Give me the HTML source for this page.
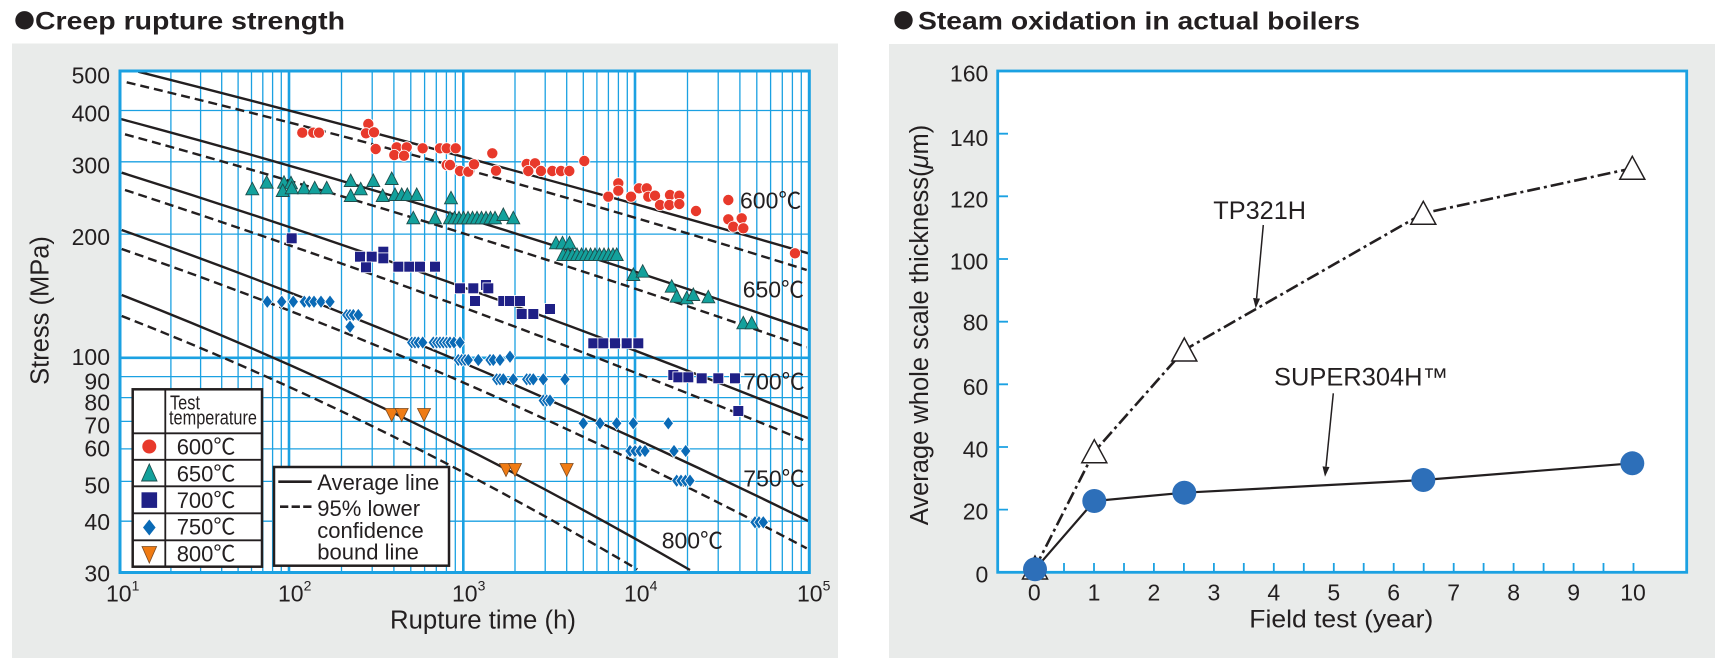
<!DOCTYPE html>
<html><head><meta charset="utf-8"><style>
html,body{margin:0;padding:0;background:#fff;}
svg{display:block;}
text{font-family:"Liberation Sans","Noto Sans CJK JP",sans-serif;fill:#231f20;}
</style></head><body>
<svg width="1728" height="671" viewBox="0 0 1728 671" xmlns="http://www.w3.org/2000/svg">
<defs>
<circle id="c6" r="5.6" fill="#e8392b" stroke="#fff" stroke-width="0.8"/>
<path id="t65" d="M0,-7L6.5,5.5H-6.5Z" fill="#13a19c" stroke="#1d4d4c" stroke-width="0.9"/>
<rect id="s7" x="-5.4" y="-5.4" width="10.8" height="10.8" fill="#1f2086" stroke="#fff" stroke-width="0.8"/>
<path id="d75" d="M0,-6.8L5.2,0L0,6.8L-5.2,0Z" fill="#0a6ab6" stroke="#fff" stroke-width="0.8"/>
<path id="v8" d="M-6.5,-6L6.5,-6L0,7Z" fill="#f07b13" stroke="#7a4a22" stroke-width="0.8"/>
<clipPath id="lp"><rect x="120" y="71" width="689.3" height="501.5"/></clipPath>
</defs>

<!-- Titles -->
<circle cx="24.5" cy="20.3" r="9.2" fill="#231f20"/>
<text x="35" y="29.3" font-size="25" font-weight="bold" textLength="310" lengthAdjust="spacingAndGlyphs">Creep rupture strength</text>
<circle cx="903.5" cy="20.3" r="9.2" fill="#231f20"/>
<text x="918" y="29.3" font-size="25" font-weight="bold" textLength="442" lengthAdjust="spacingAndGlyphs">Steam oxidation in actual boilers</text>

<!-- Panels -->
<rect x="12" y="43.5" width="826" height="614.5" fill="#e9ebea"/>
<rect x="889" y="44" width="826" height="614" fill="#e9ebea"/>

<!-- ===== LEFT CHART ===== -->
<rect x="120" y="71" width="689.3" height="501.5" fill="#fff"/>
<g stroke="#1ba1e2" fill="none">
<path stroke-width="1.3" d="M170.9 71V572.5M200.6 71V572.5M221.7 71V572.5M238.1 71V572.5M251.5 71V572.5M262.8 71V572.5M272.6 71V572.5M281.3 71V572.5
M341.5 71V572.5M372.2 71V572.5M393.9 71V572.5M410.8 71V572.5M424.6 71V572.5M436.3 71V572.5M446.4 71V572.5M455.3 71V572.5
M515 71V572.5M545.2 71V572.5M566.7 71V572.5M583.3 71V572.5M596.9 71V572.5M608.4 71V572.5M618.4 71V572.5M627.3 71V572.5
M687.5 71V572.5M718.2 71V572.5M739.9 71V572.5M756.8 71V572.5M770.6 71V572.5M782.3 71V572.5M792.4 71V572.5M801.3 71V572.5
M120 521.2H809.3M120 481.4H809.3M120 448.9H809.3M120 421.4H809.3M120 397.6H809.3M120 376.6H809.3M120 234.1H809.3M120 161.8H809.3M120 110.5H809.3"/>
<path stroke-width="2.6" d="M289 71V572.5M463.3 71V572.5M635 71V572.5M120 357.8H809.3"/>
</g>

<!-- Curves -->
<g clip-path="url(#lp)" fill="none" stroke="#231f20" stroke-width="2.4">
<path d="M138.3 71.7Q473.3 156.5 808.3 253.3"/>
<path d="M120.7 119Q464.5 210.8 808.3 330"/>
<path d="M121.7 172.7Q465 280.2 808.3 418.3"/>
<path d="M121.7 230Q465 351.5 808.3 521"/>
<path d="M121.7 295Q405.9 405.3 690 570"/>
<g stroke-dasharray="9 5">
<path d="M126.7 82.3Q466.7 163.2 806.7 270"/>
<path d="M125 134.3Q465.9 227.5 806.7 347.3"/>
<path d="M125 190Q466.2 301.2 807.3 441.7"/>
<path d="M121.7 249Q464.2 367.2 806.7 548.3"/>
<path d="M121.7 316Q379.5 416.8 637.3 569.3"/>
</g>
</g>

<!-- 600 circles -->
<g>
<use href="#c6" x="302.3" y="132.7"/><use href="#c6" x="313.3" y="132.7"/><use href="#c6" x="319" y="132.7"/>
<use href="#c6" x="368.3" y="124"/><use href="#c6" x="366" y="133.3"/><use href="#c6" x="374" y="132.3"/><use href="#c6" x="375.7" y="149"/>
<use href="#c6" x="396.7" y="147.3"/><use href="#c6" x="406.7" y="147.3"/><use href="#c6" x="394.3" y="155"/><use href="#c6" x="404" y="155.7"/>
<use href="#c6" x="422.7" y="148.3"/><use href="#c6" x="440" y="148.3"/><use href="#c6" x="446.7" y="148.3"/><use href="#c6" x="455.7" y="148.3"/>
<use href="#c6" x="446.7" y="165"/><use href="#c6" x="450" y="165"/><use href="#c6" x="460" y="171"/><use href="#c6" x="468.3" y="171.7"/><use href="#c6" x="474" y="164.3"/>
<use href="#c6" x="492.3" y="153.3"/><use href="#c6" x="496" y="170.7"/>
<use href="#c6" x="526.7" y="164"/><use href="#c6" x="535" y="163.3"/><use href="#c6" x="528.3" y="171"/><use href="#c6" x="541" y="171"/>
<use href="#c6" x="552.3" y="171"/><use href="#c6" x="561" y="171"/><use href="#c6" x="569.3" y="171"/><use href="#c6" x="584.3" y="161"/>
<use href="#c6" x="608.3" y="196.7"/><use href="#c6" x="618.3" y="183.3"/><use href="#c6" x="618.3" y="190.7"/><use href="#c6" x="631" y="196.7"/>
<use href="#c6" x="639" y="188.3"/><use href="#c6" x="646.7" y="188.3"/><use href="#c6" x="648.3" y="196.7"/><use href="#c6" x="655" y="195.7"/>
<use href="#c6" x="660" y="205"/><use href="#c6" x="670" y="195"/><use href="#c6" x="669.3" y="205"/><use href="#c6" x="679.3" y="195.7"/><use href="#c6" x="679.3" y="204"/>
<use href="#c6" x="696" y="211"/><use href="#c6" x="728.3" y="200"/>
<use href="#c6" x="728.3" y="219.3"/><use href="#c6" x="741.7" y="218.3"/><use href="#c6" x="733.3" y="226.7"/><use href="#c6" x="743.3" y="228.3"/>
<use href="#c6" x="795" y="253.3"/>
</g>

<!-- 650 triangles -->
<g>
<use href="#t65" x="252.3" y="189.3"/><use href="#t65" x="266.7" y="182.7"/><use href="#t65" x="284" y="182.7"/><use href="#t65" x="291" y="183.3"/>
<use href="#t65" x="282.7" y="191"/><use href="#t65" x="291.7" y="188.3"/><use href="#t65" x="304" y="188.3"/><use href="#t65" x="314.7" y="188.3"/><use href="#t65" x="326.7" y="188.3"/>
<use href="#t65" x="350.7" y="181"/><use href="#t65" x="373.3" y="181"/><use href="#t65" x="391.7" y="179"/>
<use href="#t65" x="350.7" y="196"/><use href="#t65" x="360.7" y="189.3"/>
<use href="#t65" x="382.7" y="196"/><use href="#t65" x="395" y="195"/><use href="#t65" x="401.7" y="195"/><use href="#t65" x="407.3" y="195"/><use href="#t65" x="416.7" y="195"/>
<use href="#t65" x="451" y="198.3"/>
<use href="#t65" x="413.3" y="218.3"/><use href="#t65" x="435" y="218.3"/>
<use href="#t65" x="450" y="218.3"/><use href="#t65" x="454.5" y="218.3"/><use href="#t65" x="459" y="218.3"/><use href="#t65" x="463.5" y="218.3"/><use href="#t65" x="468" y="218.3"/><use href="#t65" x="472.5" y="218.3"/><use href="#t65" x="477" y="218.3"/><use href="#t65" x="481.5" y="218.3"/><use href="#t65" x="486" y="218.3"/><use href="#t65" x="490.5" y="218.3"/><use href="#t65" x="495" y="218.3"/><use href="#t65" x="503.3" y="215"/><use href="#t65" x="513.3" y="218.3"/>
<use href="#t65" x="556" y="243.3"/><use href="#t65" x="562.5" y="243.3"/><use href="#t65" x="569.5" y="243.3"/>
<use href="#t65" x="563.3" y="255"/><use href="#t65" x="568" y="255"/><use href="#t65" x="572.5" y="255"/><use href="#t65" x="577" y="255"/><use href="#t65" x="581.5" y="255"/><use href="#t65" x="586" y="255"/><use href="#t65" x="590.5" y="255"/><use href="#t65" x="595" y="255"/><use href="#t65" x="599.5" y="255"/><use href="#t65" x="604" y="255"/><use href="#t65" x="608.5" y="255"/><use href="#t65" x="613" y="255"/><use href="#t65" x="616.7" y="255"/>
<use href="#t65" x="633.3" y="275"/><use href="#t65" x="642.7" y="271.7"/>
<use href="#t65" x="671.7" y="286.7"/><use href="#t65" x="676.7" y="296.7"/><use href="#t65" x="686.7" y="298.3"/><use href="#t65" x="693.3" y="295"/><use href="#t65" x="708.3" y="297.3"/>
<use href="#t65" x="743.3" y="323.3"/><use href="#t65" x="751.7" y="323.3"/>
</g>

<!-- 700 squares -->
<g>
<use href="#s7" x="291.7" y="238.3"/>
<use href="#s7" x="360" y="256.7"/><use href="#s7" x="371.7" y="256.7"/><use href="#s7" x="383.3" y="251.7"/><use href="#s7" x="383.3" y="258.3"/><use href="#s7" x="366" y="267.3"/>
<use href="#s7" x="398.3" y="266.7"/><use href="#s7" x="409.3" y="266.7"/><use href="#s7" x="420" y="266.7"/><use href="#s7" x="435" y="266.7"/>
<use href="#s7" x="486" y="285"/><use href="#s7" x="460" y="288.3"/><use href="#s7" x="473.3" y="288.3"/><use href="#s7" x="488.3" y="288.3"/>
<use href="#s7" x="475" y="301"/><use href="#s7" x="503.3" y="301"/><use href="#s7" x="510" y="301"/><use href="#s7" x="520" y="301"/>
<use href="#s7" x="521.7" y="314"/><use href="#s7" x="533.3" y="314"/><use href="#s7" x="550" y="309"/>
<use href="#s7" x="593.3" y="343.3"/><use href="#s7" x="603.3" y="343.3"/><use href="#s7" x="615" y="343.3"/><use href="#s7" x="626.7" y="343.3"/><use href="#s7" x="638.3" y="343.3"/>
<use href="#s7" x="673.3" y="375"/><use href="#s7" x="678.3" y="377.3"/><use href="#s7" x="688.3" y="377.3"/><use href="#s7" x="701.7" y="378.3"/><use href="#s7" x="718.3" y="378.3"/><use href="#s7" x="735" y="378.3"/>
<use href="#s7" x="738.3" y="411"/>
</g>

<!-- 750 diamonds -->
<g>
<use href="#d75" x="267.3" y="301.7"/><use href="#d75" x="281.7" y="301.7"/><use href="#d75" x="293.3" y="301.7"/><use href="#d75" x="304.3" y="301.7"/><use href="#d75" x="309.3" y="301.7"/><use href="#d75" x="314" y="301.7"/><use href="#d75" x="321" y="301.7"/><use href="#d75" x="330" y="301.7"/>
<use href="#d75" x="346.7" y="315"/><use href="#d75" x="350" y="315"/><use href="#d75" x="353.3" y="315"/><use href="#d75" x="358.3" y="315"/><use href="#d75" x="350" y="326.7"/>
<use href="#d75" x="411.7" y="342.5"/><use href="#d75" x="415" y="342.5"/><use href="#d75" x="418.3" y="342.5"/><use href="#d75" x="422.7" y="342.5"/>
<use href="#d75" x="433.3" y="342.5"/><use href="#d75" x="436.7" y="342.5"/><use href="#d75" x="440" y="342.5"/><use href="#d75" x="443.3" y="342.5"/><use href="#d75" x="446.7" y="342.5"/><use href="#d75" x="450" y="342.5"/><use href="#d75" x="454" y="342.5"/><use href="#d75" x="460" y="342.5"/>
<use href="#d75" x="458.3" y="360"/><use href="#d75" x="461.7" y="360"/><use href="#d75" x="465" y="360"/><use href="#d75" x="468.3" y="360"/><use href="#d75" x="478.3" y="360"/>
<use href="#d75" x="490" y="360"/><use href="#d75" x="493.3" y="360"/><use href="#d75" x="500" y="360"/><use href="#d75" x="510" y="356.7"/>
<use href="#d75" x="496.7" y="379.3"/><use href="#d75" x="500" y="379.3"/><use href="#d75" x="503.3" y="379.3"/><use href="#d75" x="513.3" y="379.3"/>
<use href="#d75" x="526.7" y="379.3"/><use href="#d75" x="530" y="379.3"/><use href="#d75" x="533.3" y="379.3"/><use href="#d75" x="543.3" y="379.3"/><use href="#d75" x="565" y="379.3"/>
<use href="#d75" x="543.3" y="400.5"/><use href="#d75" x="546.7" y="400.5"/><use href="#d75" x="550" y="400.5"/>
<use href="#d75" x="583.3" y="423.3"/><use href="#d75" x="600" y="423.3"/><use href="#d75" x="616.7" y="423.3"/><use href="#d75" x="633.3" y="423.3"/><use href="#d75" x="668.3" y="423.3"/>
<use href="#d75" x="630" y="451"/><use href="#d75" x="635" y="451"/><use href="#d75" x="640" y="451"/><use href="#d75" x="645" y="451"/><use href="#d75" x="674" y="451"/><use href="#d75" x="685.7" y="451"/>
<use href="#d75" x="676.7" y="480.7"/><use href="#d75" x="681" y="480.7"/><use href="#d75" x="685.5" y="480.7"/><use href="#d75" x="690" y="480.7"/>
<use href="#d75" x="755" y="522.3"/><use href="#d75" x="759" y="522.3"/><use href="#d75" x="763.3" y="522.3"/>
</g>

<!-- 800 inverted triangles -->
<g>
<use href="#v8" x="391.7" y="414.5"/><use href="#v8" x="401.7" y="414.5"/><use href="#v8" x="424" y="414.5"/>
<use href="#v8" x="506" y="469.5"/><use href="#v8" x="515" y="469.5"/><use href="#v8" x="566.7" y="469.5"/>
</g>

<!-- curve labels -->
<g font-size="23">
<text x="740" y="208.3">600℃</text>
<text x="742.7" y="297.3">650℃</text>
<text x="743.3" y="389.3">700℃</text>
<text x="743.3" y="486.7">750℃</text>
<text x="661.7" y="548.3">800℃</text>
</g>

<!-- plot border -->
<rect x="120" y="71" width="689.3" height="501.5" fill="none" stroke="#1ba1e2" stroke-width="3"/>

<!-- legend 1 -->
<g>
<rect x="132.7" y="389.3" width="129.3" height="177.4" fill="#fff" stroke="#231f20" stroke-width="2.5"/>
<path d="M165.3 389.3V567M132.7 433.3H262M132.7 459.8H262M132.7 486.3H262M132.7 513.3H262M132.7 540.3H262" stroke="#231f20" stroke-width="1.8" fill="none"/>
<text x="170" y="409.3" font-size="20" textLength="30" lengthAdjust="spacingAndGlyphs">Test</text>
<text x="169" y="424.3" font-size="20" textLength="88" lengthAdjust="spacingAndGlyphs">temperature</text>
<circle cx="149.3" cy="446.5" r="7" fill="#e8392b"/>
<path d="M149.3 464L157 481H141.6Z" fill="#13a19c" stroke="#1d4d4c" stroke-width="0.9"/>
<rect x="141.5" y="492.3" width="15.6" height="15.6" fill="#1f2086"/>
<path d="M149.3 519.5L155.6 527.5L149.3 535.5L143 527.5Z" fill="#0a6ab6"/>
<path d="M142 546.5H156.6L149.3 563Z" fill="#f07b13" stroke="#7a4a22" stroke-width="0.8"/>
<g font-size="22">
<text x="176.7" y="454.6">600℃</text>
<text x="176.7" y="481.3">650℃</text>
<text x="176.7" y="508">700℃</text>
<text x="176.7" y="534.7">750℃</text>
<text x="176.7" y="561.3">800℃</text>
</g>
</g>

<!-- legend 2 -->
<g>
<rect x="274" y="467" width="175" height="98.7" fill="#fff" stroke="#231f20" stroke-width="2.5"/>
<path d="M278.3 481.7H311.7" stroke="#231f20" stroke-width="2.6"/>
<path d="M280 506.7H312" stroke="#231f20" stroke-width="2.6" stroke-dasharray="8.3 3.3"/>
<g font-size="22">
<text x="317.3" y="490">Average line</text>
<text x="317.3" y="516">95% lower</text>
<text x="317.3" y="538">confidence</text>
<text x="317.3" y="559.5">bound line</text>
</g>
</g>

<!-- left axis labels -->
<g font-size="23" text-anchor="end">
<text x="110" y="83.3">500</text>
<text x="110" y="121.7">400</text>
<text x="110" y="173.3">300</text>
<text x="110" y="245">200</text>
<text x="110" y="365">100</text>
<text x="110" y="389.3">90</text>
<text x="110" y="410.7">80</text>
<text x="110" y="433.3">70</text>
<text x="110" y="456.7">60</text>
<text x="110" y="493.3">50</text>
<text x="110" y="530">40</text>
<text x="110" y="581.7">30</text>
</g>
<g font-size="23">
<text x="106" y="601.7">10<tspan font-size="14" dy="-11">1</tspan></text>
<text x="278" y="601.7">10<tspan font-size="14" dy="-11">2</tspan></text>
<text x="452" y="601.7">10<tspan font-size="14" dy="-11">3</tspan></text>
<text x="624" y="601.7">10<tspan font-size="14" dy="-11">4</tspan></text>
<text x="797" y="601.7">10<tspan font-size="14" dy="-11">5</tspan></text>
</g>
<text x="390" y="628.3" font-size="25.5" textLength="186" lengthAdjust="spacingAndGlyphs">Rupture time (h)</text>
<text transform="translate(48.3,310.5) rotate(-90)" font-size="25.5" text-anchor="middle">Stress (MPa)</text>

<!-- ===== RIGHT CHART ===== -->
<rect x="997.7" y="71" width="689" height="501.3" fill="#fff"/>
<g stroke="#1ba1e2" stroke-width="1.8" fill="none">
<path d="M997.7 509.6H1008M997.7 447H1008M997.7 384.3H1008M997.7 321.7H1008M997.7 259H1008M997.7 196.3H1008M997.7 133.7H1008"/>
<path d="M1034 572.3V563M1064 572.3V563M1094 572.3V563M1124 572.3V563M1153.9 572.3V563M1183.9 572.3V563M1213.9 572.3V563M1243.8 572.3V563M1273.8 572.3V563M1303.8 572.3V563M1333.8 572.3V563M1363.7 572.3V563M1393.7 572.3V563M1423.7 572.3V563M1453.7 572.3V563M1483.6 572.3V563M1513.6 572.3V563M1543.6 572.3V563M1573.6 572.3V563M1603.5 572.3V563M1633.5 572.3V563"/>
</g>
<rect x="997.7" y="71" width="689" height="501.3" fill="none" stroke="#1ba1e2" stroke-width="2.8"/>

<!-- series lines -->
<polyline points="1035,568 1094.3,451.7 1184.3,350 1423.3,213.3 1632.3,168.3" fill="none" stroke="#231f20" stroke-width="2.6" stroke-dasharray="13 4 3 4"/>
<polyline points="1035,569.3 1094.3,501 1184.3,492.7 1423.3,480 1632.3,463.3" fill="none" stroke="#231f20" stroke-width="2.2"/>
<g fill="#fff" stroke="#231f20" stroke-width="1.5">
<path d="M1035 556L1047.5 579H1022.5Z"/>
<path d="M1094.3 439.7L1106.8 462.7H1081.8Z"/>
<path d="M1184.3 338L1196.8 361H1171.8Z"/>
<path d="M1423.3 201.3L1435.8 224.3H1410.8Z"/>
<path d="M1632.3 156.3L1644.8 179.3H1619.8Z"/>
</g>
<g fill="#2d6fb9">
<circle cx="1035" cy="569.3" r="12"/>
<circle cx="1094.3" cy="501" r="12"/>
<circle cx="1184.3" cy="492.7" r="12"/>
<circle cx="1423.3" cy="480" r="12"/>
<circle cx="1632.3" cy="463.3" r="12"/>
</g>

<!-- annotations -->
<text x="1213.3" y="219" font-size="25" textLength="92.7" lengthAdjust="spacingAndGlyphs">TP321H</text>
<path d="M1263.3 225L1256.6 298.3" stroke="#231f20" stroke-width="1.5"/>
<path d="M1255.7 308.3L1260.1 298.6L1253.1 298Z" fill="#231f20"/>
<text x="1274" y="385.5" font-size="25" textLength="174" lengthAdjust="spacingAndGlyphs">SUPER304H™</text>
<path d="M1333.3 393.3L1326 466.7" stroke="#231f20" stroke-width="1.5"/>
<path d="M1325 476.7L1329.5 467L1322.5 466.4Z" fill="#231f20"/>

<!-- right axis labels -->
<g font-size="23" text-anchor="end">
<text x="988.3" y="81.7">160</text>
<text x="988.3" y="146">140</text>
<text x="988.3" y="207.3">120</text>
<text x="988.3" y="269.3">100</text>
<text x="988.3" y="330.7">80</text>
<text x="988.3" y="395">60</text>
<text x="988.3" y="457.3">40</text>
<text x="988.3" y="519.3">20</text>
<text x="988.3" y="582.7">0</text>
</g>
<g font-size="23" text-anchor="middle">
<text x="1034.3" y="600.7">0</text>
<text x="1094" y="600.7">1</text>
<text x="1153.9" y="600.7">2</text>
<text x="1213.9" y="600.7">3</text>
<text x="1273.8" y="600.7">4</text>
<text x="1333.8" y="600.7">5</text>
<text x="1393.7" y="600.7">6</text>
<text x="1453.7" y="600.7">7</text>
<text x="1513.6" y="600.7">8</text>
<text x="1573.6" y="600.7">9</text>
<text x="1633" y="600.7">10</text>
</g>
<text x="1249.3" y="627.3" font-size="25" textLength="184" lengthAdjust="spacingAndGlyphs">Field test (year)</text>
<text transform="translate(928,325) rotate(-90)" font-size="25.5" text-anchor="middle">Average whole scale thickness(<tspan font-style="italic">μ</tspan>m)</text>
</svg>
</body></html>
